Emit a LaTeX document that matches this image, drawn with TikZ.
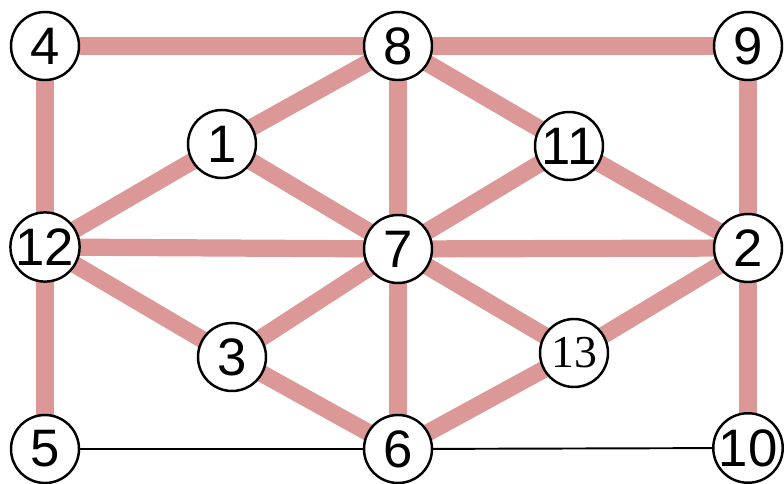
\documentclass[tikz,border=0pt]{standalone}
\usepackage{fontspec}
\setmainfont{Liberation Sans}
\newfontfamily\smallnum{Liberation Serif}
\usetikzlibrary{backgrounds}
\definecolor{edgepink}{RGB}{220,152,150}

\begin{document}
\begin{tikzpicture}[line width=1.4pt,
    vtx/.style={circle, draw, fill=white, minimum size=1.36cm, inner sep=0pt, font=\fontsize{30}{30}\selectfont},
    road/.style={edgepink, line width=9.8pt, shorten <=-3pt, shorten >=-3pt},
    lane/.style={black, line width=1.1pt}]
  \useasboundingbox (0,0) rectangle (15.68,-9.68);

  \node[vtx] (N4) at (0.9,-0.92) {4};
  \node[vtx, right of=N4, node distance=7.06cm] (N8) {8};
  \node[vtx, right of=N8, node distance=7cm] (N9) {9};
  \node[vtx, below of=N4, node distance=4.02cm] (N12) {12};
  \node[vtx, below of=N12, node distance=4.04cm] (N5) {5};
  \node[vtx, below of=N8, node distance=4.06cm] (N7) {7};
  \node[vtx, below of=N7, node distance=4cm] (N6) {6};
  \node[vtx, below of=N9, node distance=4.04cm] (N2) {2};
  \node[vtx, below of=N2, node distance=4cm] (N10) {10};
  \node[vtx] (N1) at (4.44,-2.88) {1};
  \node[vtx] (N11) at (11.38,-2.92) {11};
  \node[vtx] (N3) at (4.64,-7.14) {3};
  \node[vtx, font=\smallnum\fontsize{26}{26}\selectfont] (N13) at (11.48,-7.06) {13};

  \begin{scope}[on background layer]
  \draw[road] (N4) -- (N8);
  \draw[road] (N8) -- (N9);
  \draw[road] (N4) -- (N12);
  \draw[road] (N12) -- (N5);
  \draw[road] (N9) -- (N2);
  \draw[road] (N2) -- (N10);
  \draw[road] (N8) -- (N1);
  \draw[road] (N1) -- (N12);
  \draw[road] (N1) -- (N7);
  \draw[road] (N8) -- (N7);
  \draw[road] (N8) -- (N11);
  \draw[road] (N11) -- (N2);
  \draw[road] (N11) -- (N7);
  \draw[road] (N12) -- (N7);
  \draw[road] (N7) -- (N2);
  \draw[road] (N12) -- (N3);
  \draw[road] (N3) -- (N7);
  \draw[road] (N3) -- (N6);
  \draw[road] (N7) -- (N6);
  \draw[road] (N7) -- (N13);
  \draw[road] (N13) -- (N2);
  \draw[road] (N13) -- (N6);
  \draw[lane] (N5) -- (N6);
  \draw[lane] (N6) -- (N10);
  \end{scope}
\end{tikzpicture}
\end{document}
